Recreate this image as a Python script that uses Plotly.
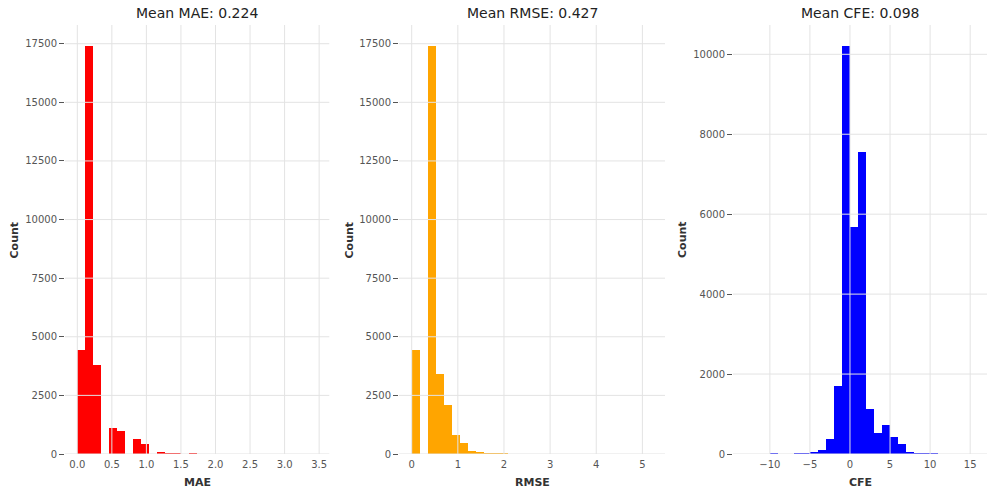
import plotly.graph_objects as go

# ---------------- data ----------------
# MAE histogram: left edges of bins, bin width, counts
mae_left = [0.000, 0.116, 0.232, 0.464, 0.580, 0.811, 0.927, 1.159, 1.275, 1.391, 1.623]
mae_count = [4440, 17400, 3775, 1090, 975, 630, 410, 80, 32, 30, 35]
mae_width = 0.1159

# RMSE histogram
rmse_left = [0.000, 0.349, 0.524, 0.699, 0.873, 1.048, 1.223, 1.398, 1.572, 1.747, 1.922]
rmse_count = [4440, 17400, 3420, 2105, 805, 480, 140, 80, 40, 35, 30]
rmse_width = 0.1747

# CFE histogram
cfe_left = [-10, -7, -6, -5, -4, -3, -2, -1, 0, 1, 2, 3, 4, 5, 6, 7, 8, 9, 10]
cfe_count = [25, 18, 18, 50, 100, 372, 1695, 10200, 5690, 7550, 1133, 530, 720, 430, 257, 40, 15, 15, 15]
cfe_width = 1.0

titles = ["Mean MAE: 0.224", "Mean RMSE: 0.427", "Mean CFE: 0.098"]
xlabels = ["MAE", "RMSE", "CFE"]
ylabel = "Count"

mae_xticks = [0.0, 0.5, 1.0, 1.5, 2.0, 2.5, 3.0, 3.5]
mae_xticktext = ["0.0", "0.5", "1.0", "1.5", "2.0", "2.5", "3.0", "3.5"]
rmse_xticks = [0, 1, 2, 3, 4, 5]
cfe_xticks = [-10, -5, 0, 5, 10, 15]
cfe_xticktext = ["\u221210", "\u22125", "0", "5", "10", "15"]
count_ticks_a = [0, 2500, 5000, 7500, 10000, 12500, 15000, 17500]
count_ticks_b = [0, 2000, 4000, 6000, 8000, 10000]

colors = ["red", "orange", "blue"]

# ---------------- layout geometry ----------------
W, H = 987, 494
px_x = [(65, 329.3), (399, 665), (733, 987)]
top_px, bot_px = 25, 454
y_dom = [(H - bot_px) / H, (H - top_px) / H]

x_ranges = [[-0.178, 3.647], [-0.275, 5.49], [-14.6, 17.1]]
y_ranges = [[0, 18298], [0, 18298], [0, 10733]]

FONT = "DejaVu Sans"
TICKC = "#555555"
GRID = "#e3e3e3"

fig = go.Figure()

series = [
    (mae_left, mae_count, mae_width),
    (rmse_left, rmse_count, rmse_width),
    (cfe_left, cfe_count, cfe_width),
]
xtick_sets = [(mae_xticks, mae_xticktext),
              (rmse_xticks, [str(v) for v in rmse_xticks]),
              (cfe_xticks, cfe_xticktext)]
ytick_sets = [count_ticks_a, count_ticks_a, count_ticks_b]

shapes = []
annotations = []
for i, ((left, cnt, w), col) in enumerate(zip(series, colors)):
    n = "" if i == 0 else str(i + 1)
    xa, ya = "x" + n, "y" + n
    centers = [l + w / 2 for l in left]
    fig.add_trace(go.Bar(
        x=centers, y=cnt, width=[w] * len(cnt),
        marker=dict(color=col, line=dict(width=0)),
        xaxis=xa, yaxis=ya, showlegend=False, hoverinfo="x+y",
    ))
    d0 = px_x[i][0] / W
    d1 = px_x[i][1] / W
    xt, xtt = xtick_sets[i]
    yt = ytick_sets[i]
    fig.update_layout(**{
        "xaxis" + n: dict(
            domain=[d0, d1], range=x_ranges[i], anchor=ya,
            tickvals=xt, ticktext=xtt, ticks="", showgrid=False,
            zeroline=False, showline=False, automargin=False,
            ticklabelstandoff=3,
            tickfont=dict(family=FONT, size=10, color=TICKC),
            fixedrange=True,
        ),
        "yaxis" + n: dict(
            domain=y_dom, range=y_ranges[i], anchor=xa,
            tickvals=yt, ticktext=[str(v) for v in yt],
            ticks="outside", ticklen=5, tickwidth=1, tickcolor=TICKC,
            showgrid=False, zeroline=False, showline=False, automargin=False,
            tickfont=dict(family=FONT, size=10, color=TICKC),
            fixedrange=True,
        ),
    })
    # gridlines drawn above the bars (as in the reference)
    for v in xt:
        shapes.append(dict(type="line", xref=xa, yref=ya + " domain",
                           x0=v, x1=v, y0=0, y1=1, layer="above",
                           line=dict(color=GRID, width=1)))
    for v in yt:
        shapes.append(dict(type="line", xref=xa + " domain", yref=ya,
                           x0=0, x1=1, y0=v, y1=v, layer="above",
                           line=dict(color=GRID, width=1)))
    cx = (d0 + d1) / 2
    annotations.append(dict(text=titles[i], x=cx, y=(H - 13) / H, xref="paper", yref="paper",
                            xanchor="center", yanchor="middle", showarrow=False,
                            font=dict(family=FONT, size=14, color="#222222")))
    annotations.append(dict(text="<b>" + xlabels[i] + "</b>", x=cx, y=(H - 482) / H,
                            xref="paper", yref="paper", xanchor="center", yanchor="middle",
                            showarrow=False, font=dict(family=FONT, size=11, color="#333333")))

ylabel_x = [13.5, 348.5, 682]
for xp in ylabel_x:
    annotations.append(dict(text="<b>" + ylabel + "</b>", x=xp / W, y=(H - 240) / H,
                            xref="paper", yref="paper", xanchor="center", yanchor="middle",
                            textangle=-90, showarrow=False,
                            font=dict(family=FONT, size=11, color="#333333")))

fig.update_layout(
    width=W, height=H,
    margin=dict(l=0, r=0, t=0, b=0),
    paper_bgcolor="white", plot_bgcolor="white",
    bargap=0, barmode="overlay",
    shapes=shapes, annotations=annotations,
    showlegend=False,
)

fig.write_html(
    "out.html",
    config={"displayModeBar": False, "staticPlot": True},
    post_script="document.body.style.margin='0';document.body.style.overflow='hidden';",
)
